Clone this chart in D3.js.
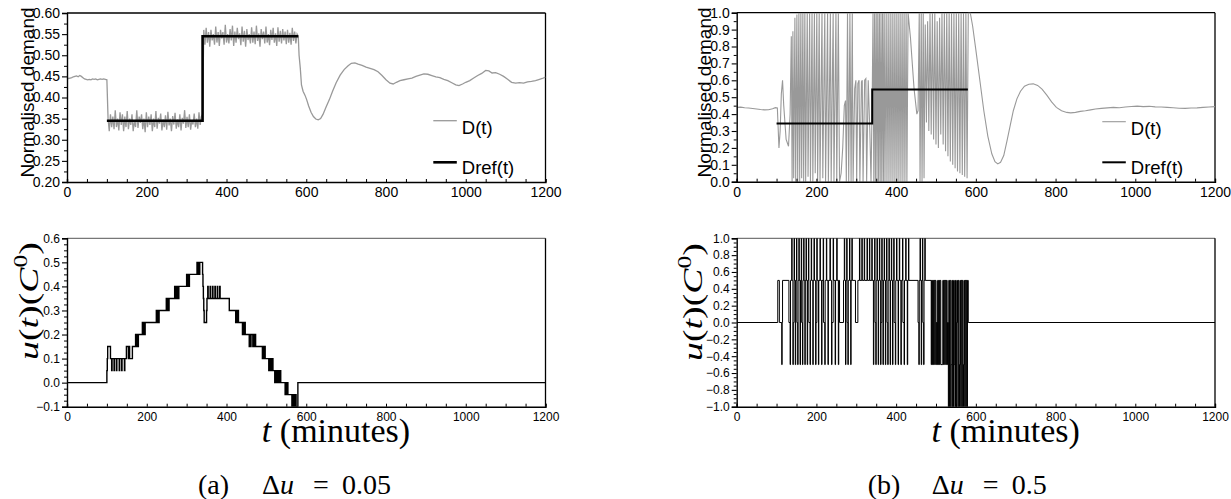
<!DOCTYPE html>
<html><head><meta charset="utf-8">
<script src="https://cdn.jsdelivr.net/npm/d3@7"></script>
<style>body{margin:0;background:#fff}svg{display:block}</style>
</head><body>
<svg id="c" width="1231" height="499"></svg>
<script>
// ---------------- DATA ----------------
const timeTicks = [0,200,400,600,800,1000,1200];
const timeMinor = [0,50,100,150,200,250,300,350,400,450,500,550,600,650,700,750,800,850,900,950,1000,1050,1100,1150,1200];
const ticksDemA = [0.20,0.25,0.30,0.35,0.40,0.45,0.50,0.55,0.60];
const ticksDemB = [0.0,0.1,0.2,0.3,0.4,0.5,0.6,0.7,0.8,0.9,1.0];
const ticksUA = [-0.1,0.0,0.1,0.2,0.3,0.4,0.5,0.6];
const ticksUB = [-1.0,-0.8,-0.6,-0.4,-0.2,0.0,0.2,0.4,0.6,0.8,1.0];

// (a) D(t): before step, noisy segments sampled every 3 min, recovery
const demA_pre = [[0,0.447],[4,0.445],[8,0.446],[12,0.447],[16,0.449],[20,0.45],[24,0.451],[28,0.449],[32,0.452],[36,0.45],[40,0.447],[44,0.444],[48,0.443],[52,0.442],[56,0.443],[60,0.442],[64,0.444],[68,0.443],[72,0.444],[76,0.442],[80,0.443],[84,0.444],[88,0.443],[92,0.444],[96,0.443],[100,0.442]];
const demA_seg1Start = 103, demA_step = 3;
const demA_seg1 = [0.35,0.32,0.36,0.33,0.355,0.325,0.37,0.33,0.35,0.322,0.365,0.335,0.36,0.32,0.355,0.33,0.368,0.325,0.35,0.335,0.36,0.32,0.345,0.33,0.37,0.328,0.355,0.34,0.36,0.325,0.35,0.318,0.365,0.33,0.355,0.335,0.36,0.32,0.35,0.33,0.368,0.326,0.352,0.338,0.362,0.322,0.348,0.33,0.358,0.324,0.366,0.334,0.35,0.32,0.356,0.336,0.364,0.326,0.348,0.33,0.36,0.322,0.352,0.338,0.37,0.328,0.354,0.33,0.36,0.324,0.346,0.336,0.362,0.33,0.35,0.326,0.365,0.335,0.355,0.36];
const demA_seg2Start = 343;
const demA_seg2 = [0.56,0.525,0.565,0.53,0.555,0.52,0.56,0.535,0.55,0.525,0.568,0.53,0.555,0.522,0.56,0.54,0.555,0.525,0.572,0.53,0.55,0.528,0.562,0.535,0.57,0.522,0.556,0.53,0.565,0.538,0.552,0.524,0.568,0.532,0.558,0.52,0.562,0.536,0.55,0.528,0.566,0.53,0.556,0.526,0.57,0.534,0.552,0.52,0.562,0.538,0.556,0.528,0.568,0.53,0.55,0.524,0.56,0.536,0.565,0.53,0.552,0.522,0.566,0.532,0.558,0.528,0.562,0.535,0.556,0.526,0.56,0.53,0.553,0.525,0.565,0.534,0.556,0.528,0.55,0.545];
const demA_post = [[582,0.50],[585,0.47],[588,0.43],[592,0.415],[597,0.405],[601,0.395],[606,0.38],[612,0.365],[618,0.355],[624,0.349],[630,0.347],[636,0.35],[642,0.36],[650,0.378],[658,0.395],[666,0.415],[675,0.435],[685,0.453],[695,0.466],[705,0.475],[713,0.481],[722,0.482],[730,0.479],[740,0.476],[750,0.472],[760,0.469],[770,0.466],[780,0.461],[790,0.452],[800,0.442],[810,0.434],[818,0.432],[826,0.436],[835,0.44],[845,0.442],[855,0.444],[865,0.446],[875,0.45],[885,0.453],[895,0.456],[905,0.455],[915,0.452],[925,0.449],[935,0.447],[945,0.443],[955,0.44],[965,0.435],[975,0.43],[983,0.428],[992,0.432],[1000,0.436],[1010,0.44],[1020,0.446],[1030,0.452],[1040,0.457],[1050,0.464],[1058,0.463],[1066,0.458],[1075,0.459],[1085,0.455],[1095,0.45],[1105,0.443],[1115,0.436],[1125,0.434],[1135,0.435],[1145,0.434],[1155,0.437],[1165,0.438],[1175,0.44],[1185,0.443],[1192,0.445],[1200,0.448]];

// reference demand (both cases)
const drefT = [100,340,580];
const drefV = [0.345,0.545,0.545];

// (a) control u(t), step-after [t, value]
const uA = [[0,0],[100,0.05],[101,0.10],[102,0.15],[109,0.10],
 [112,0.05],[113,0.10],[118,0.05],[119,0.10],[124,0.05],[125,0.10],[131,0.05],[132,0.10],[137,0.05],[138,0.10],[144,0.05],[145,0.10],
 [149,0.15],[154,0.10],[156,0.15],[157,0.10],[164,0.15],
 [172,0.2],[173,0.15],[175.5,0.2],[176.5,0.15],[179,0.2],
 [189,0.25],[190,0.2],[192.5,0.25],[193.5,0.2],[196,0.25],
 [224,0.3],[225,0.25],[227.5,0.3],[228.5,0.25],[231,0.3],
 [249,0.35],[250,0.3],[252.5,0.35],[253.5,0.3],[256,0.35],
 [270,0.4],[271,0.35],[273.5,0.4],[274.5,0.35],[277,0.4],[278,0.35],[280.5,0.4],
 [300,0.45],[301,0.4],[303.5,0.45],[304.5,0.4],[307,0.45],
 [326,0.5],[327,0.45],[329.5,0.5],[330.5,0.45],[333,0.5],
 [340,0.45],[341,0.4],[342,0.35],[343,0.3],[344,0.25],[350,0.3],[351,0.35],
 [353,0.4],[354,0.35],[359,0.4],[360,0.35],[365,0.4],[366,0.35],[371,0.4],[372,0.35],[377,0.4],[378,0.35],[383,0.4],[384,0.35],
 [407,0.3],
 [423,0.25],[424,0.3],[426.5,0.25],[427.5,0.3],[430,0.25],
 [440,0.2],[441,0.25],[443.5,0.2],[444.5,0.25],[447,0.2],
 [457,0.15],[458,0.2],[460.5,0.15],[461.5,0.2],[466,0.15],[467,0.2],[469.5,0.15],[470.5,0.2],[473,0.15],
 [490,0.1],[491,0.15],[493.5,0.1],[494.5,0.15],[497,0.1],
 [506,0.05],[507,0.1],[509.5,0.05],[510.5,0.1],[513,0.05],[514,0.1],[516.5,0.05],
 [521,0],[522,0.05],[524.5,0],[525.5,0.05],[529,0],[530,0.05],[532.5,0],[533.5,0.05],[536,0],
 [547,-0.05],[548,0],[550.5,-0.05],[551.5,0],[554,-0.05],
 [564,-0.1],[565,-0.05],[567.5,-0.1],[568.5,-0.05],[571,-0.1],[572,-0.05],[574.5,-0.1],
 [579,0],[1200,0]];

// (b) D(t) turning points
const demB = [[0,0.44],[10,0.441],[20,0.438],[30,0.436],[40,0.433],[50,0.43],[60,0.427],[70,0.425],[80,0.426],[90,0.432],[97,0.438],[102,0.436],[106,0.2],[109,0.3],[112,0.52],[115,0.6],[118,0.45],[124,0.25],[130,0.21],[134,0.4],[137,0.86],[139,0.0],[141,0.89],[143,0.02],[146,0.97],[148,0.0],[151,0.99],[153,0.0],[156,1.0],[158,0.0],[161,1.0],[163,0.02],[166,1.0],[168,0.0],[171,1.0],[173,0.0],[177,1.0],[179,0.03],[183,1.0],[185,0.0],[189,1.0],[191,0.0],[195,1.0],[197,0.05],[201,1.0],[203,0.0],[207,1.0],[209,0.0],[214,1.0],[216,0.02],[221,1.0],[223,0.0],[228,1.0],[230,0.0],[235,1.0],[237,0.0],[242,1.0],[244,0.0],[249,1.0],[251,0.0],[255,1.0],[258,0.0],[262,0.05],[266,0.2],[270,0.45],[273,0.48],[275,0.0],[278,1.0],[281,0.0],[284,1.0],[287,0.0],[290,1.0],[292,0.0],[296,0.55],[299,0.6],[301,0.0],[304,0.58],[307,0.6],[309,0.0],[313,0.59],[315,0.6],[317,0.0],[321,0.6],[324,0.61],[326,0.0],[330,0.6],[334,0.3],[337,0.0],[340,0.5],[342,1.0],[344,0.0],[346,1.0],[348,0.0],[350,1.0],[352,0.0],[354,1.0],[356,0.0],[358,1.0],[360,0.0],[362,1.0],[364,0.0],[366,1.0],[368,0.0],[370,1.0],[372,0.0],[375,1.0],[377,0.0],[380,1.0],[382,0.0],[385,1.0],[387,0.0],[390,1.0],[392,0.0],[395,1.0],[397,0.0],[400,1.0],[402,0.0],[405,1.0],[407,0.0],[410,1.0],[412,0.0],[415,1.0],[417,0.0],[420,1.0],[422,0.0],[425,1.0],[427,0.0],[430,1.0],[436,0.85],[445,0.55],[452,0.4],[455,0.42],[458,1.0],[460,0.0],[463,1.0],[465,0.0],[468,1.0],[470,0.02],[473,0.93],[476,0.35],[479,0.95],[482,0.3],[485,1.0],[488,0.28],[491,1.0],[494,0.25],[497,1.0],[500,0.22],[503,0.95],[506,0.2],[509,0.97],[512,0.28],[515,1.0],[518,0.22],[521,1.0],[524,0.18],[527,1.0],[530,0.15],[533,1.0],[536,0.12],[539,1.0],[542,0.1],[545,1.0],[548,0.08],[551,1.0],[554,0.06],[557,1.0],[560,0.05],[563,1.0],[566,0.04],[569,1.0],[572,0.03],[575,1.0],[578,0.02],[581,1.0],[586,1.0],[592,0.92],[600,0.78],[610,0.6],[620,0.42],[630,0.27],[640,0.165],[648,0.118],[655,0.105],[662,0.115],[670,0.155],[678,0.24],[686,0.33],[694,0.42],[703,0.49],[712,0.535],[722,0.565],[733,0.577],[744,0.579],[755,0.57],[766,0.548],[778,0.512],[790,0.472],[802,0.44],[815,0.42],[828,0.41],[838,0.407],[850,0.41],[862,0.416],[875,0.42],[888,0.425],[900,0.43],[915,0.434],[930,0.437],[945,0.44],[960,0.438],[975,0.442],[990,0.445],[1005,0.447],[1020,0.444],[1035,0.446],[1050,0.443],[1065,0.442],[1080,0.44],[1095,0.438],[1110,0.435],[1125,0.434],[1140,0.436],[1155,0.437],[1170,0.44],[1185,0.442],[1200,0.444]];

// (b) control u(t), step-after [t, value]
const uB = [[0,0],[103,0.5],[107,0],[113,-0.5],[114,0],[115,0.5],[131,0],[134,-0.5],[135,0.5],[138,1],[139,0.5],[141,-0.5],[142,0],[144,1],[145,0.5],[147,-0.5],[148,0.5],[150,1],[151,0],[153,-0.5],[154,0.5],[156,1],[157,0.5],[159,-0.5],[160,0.5],[162,1],[163,0],[165,-0.5],[166,0.5],[168,1],[169,0.5],[171,-0.5],[172,0.5],[174,1],[175,0.5],[177,-0.5],[178,0.5],[180,1],[181,0],[184,-0.5],[185,0.5],[187,1],[188,0.5],[191,-0.5],[192,0.5],[194,1],[195,0.5],[198,-0.5],[199,0],[201,1],[202,0.5],[205,-0.5],[206,0.5],[209,1],[210,0.5],[213,-0.5],[214,0.5],[217,1],[218,0],[221,-0.5],[222,0.5],[225,1],[226,0.5],[229,-0.5],[230,0.5],[234,1],[235,0.5],[238,-0.5],[239,0],[242,1],[243,0.5],[247,-0.5],[248,0.5],[251,1],[252,0.5],[255,-0.5],[256,0.5],[258,0],[268,0.5],[270,1],[271,0.5],[273,-0.5],[274,0.5],[276,1],[277,0],[279,-0.5],[280,0.5],[283,1],[284,0.5],[286,-0.5],[287,0.5],[289,1],[290,0.5],[298,0],[304,0.5],[308,1],[309,0.5],[314,1],[315,0.5],[320,1],[321,0.5],[327,1],[328,0.5],[333,1],[334,0.5],[339,1],[340,0.5],[343,-0.5],[344,0.5],[346,1],[347,0],[349,-0.5],[350,0.5],[352,1],[353,0.5],[355,-0.5],[356,0.5],[358,1],[359,0.5],[361,-0.5],[362,0],[364,1],[365,0.5],[367,-0.5],[368,0.5],[370,1],[371,0.5],[373,-0.5],[374,0.5],[376,1],[377,0],[379,-0.5],[380,0.5],[382,1],[383,0.5],[385,-0.5],[386,0.5],[388,1],[389,0.5],[391,-0.5],[392,0.5],[394,1],[395,0],[398,-0.5],[399,0.5],[401,1],[402,0.5],[405,-0.5],[406,0.5],[408,1],[409,0.5],[412,-0.5],[413,0.5],[416,1],[417,0],[420,-0.5],[421,0.5],[424,1],[425,0.5],[428,-0.5],[429,0.5],[431,1],[432,0.5],[455,0],[457,-0.5],[458,0.5],[460,1],[461,0.5],[463,-0.5],[464,0.5],[466,1],[467,0],[469,-0.5],[470,0.5],[472,1],[473,0.5],[488,-0.5],[489,0.5],[491,-0.5],[492,0.5],[494,-0.5],[495,0.5],[497,-0.5],[498,0.5],[500,-0.5],[501,0],[503,-0.5],[504,0.5],[506,-0.5],[507,0.5],[509,-0.5],[510,0.5],[512,-0.5],[517,0.5],[519,-0.5],[520,0.5],[522,-0.5],[523,0.5],[525,-0.5],[526,0.5],[528,-0.5],[529,0],[531,-1],[532,0.5],[534,-1],[535,0.5],[537,-1],[538,-0.5],[540,0.5],[541,-1],[542,0.5],[544,-1],[545,-0.5],[547,0.5],[548,-1],[549,0.5],[551,-1],[552,0],[554,0.5],[555,-1],[556,0.5],[558,-1],[559,-0.5],[561,0.5],[562,-1],[563,0.5],[565,-1],[566,0.5],[568,-1],[569,-0.5],[571,0.5],[572,-1],[573,0.5],[575,-1],[576,0.5],[578,-1],[579,0.5],[581,0],[1200,0]];

// ---------------- DRAW ----------------
const svg = d3.select("#c");
const SANS = "'Liberation Sans', Arial, Helvetica, sans-serif";
const SERIF = "'Liberation Serif', 'Times New Roman', serif";

function minorBetween(majors, n){
  const out=[];
  for(let i=0;i<majors.length-1;i++){
    for(let k=1;k<n;k++) out.push(majors[i]+(majors[i+1]-majors[i])*k/n);
  }
  return out;
}

function panel(o){
  const x = d3.scaleLinear().domain([0,1200]).range([o.x0,o.x1]);
  const y = d3.scaleLinear().domain(o.ydom).range([o.y0,o.y1]);
  const g = svg.append("g");
  const id = "clip"+o.id;
  svg.append("clipPath").attr("id",id).append("rect")
    .attr("x",o.x0).attr("y",o.y1).attr("width",o.x1-o.x0).attr("height",o.y0-o.y1);
  g.append("line").attr("x1",o.x0).attr("x2",o.x1).attr("y1",o.y1).attr("y2",o.y1)
    .attr("stroke",o.topColor).attr("stroke-width",1.3);
  g.append("line").attr("x1",o.x1).attr("x2",o.x1).attr("y1",o.y1).attr("y2",o.y0)
    .attr("stroke","#000").attr("stroke-width",1.3);
  const lines = g.append("g").attr("clip-path",`url(#${id})`);
  o.series.forEach(s=>{
    lines.append("path").datum(s.data)
      .attr("fill","none").attr("stroke",s.color).attr("stroke-width",s.width)
      .attr("d", d3.line().x(d=>x(d[0])).y(d=>y(d[1])).curve(s.curve||d3.curveLinear));
  });
  const xa = g.append("g").attr("transform",`translate(0,${o.y0})`)
    .call(d3.axisBottom(x).tickValues(timeMinor).tickSize(-3).tickPadding(o.xPad)
      .tickFormat(d=> timeTicks.includes(d)? String(d):""));
  xa.select(".domain").attr("stroke","#000").attr("stroke-width",1.4);
  xa.selectAll(".tick line").attr("stroke","#000").attr("stroke-width",1);
  xa.selectAll("text").attr("font-family",SANS).attr("font-size",o.fs).attr("fill","#000");
  const ya = g.append("g").attr("transform",`translate(${o.x0},0)`)
    .call(d3.axisLeft(y).tickValues(o.yticks).tickSize(5).tickPadding(2)
      .tickFormat(d3.format(o.yfmt)));
  ya.select(".domain").attr("stroke","#000").attr("stroke-width",1.4);
  ya.selectAll(".tick line").attr("stroke","#000").attr("stroke-width",1.1);
  ya.selectAll("text").attr("font-family",SANS).attr("font-size",o.fs).attr("fill","#000");
  const ym = g.append("g").attr("transform",`translate(${o.x0},0)`)
    .call(d3.axisLeft(y).tickValues(minorBetween(o.yticks,o.ysub)).tickSize(3).tickFormat(""));
  ym.select(".domain").remove();
  ym.selectAll(".tick line").attr("stroke","#000").attr("stroke-width",1);
  return {x,y,g};
}

function demandSeries(){
  const d = demA_pre.slice();
  demA_seg1.forEach((v,i)=>d.push([demA_seg1Start+demA_step*i, v]));
  demA_seg2.forEach((v,i)=>d.push([demA_seg2Start+demA_step*i, v]));
  return d.concat(demA_post);
}
const dref = drefT.map((t,i)=>[t,drefV[i]]);

panel({id:"at", x0:67, x1:545.5, y0:182, y1:13, ydom:[0.2,0.6], yticks:ticksDemA, ysub:2, yfmt:".2f", fs:14, xPad:5.5, topColor:"#000",
  series:[{data:demandSeries(), color:"#999", width:1.3},
          {data:dref, color:"#000", width:2.6, curve:d3.curveStepAfter}]});
panel({id:"bt", x0:736.7, x1:1215, y0:181.7, y1:12.7, ydom:[0,1], yticks:ticksDemB, ysub:2, yfmt:".1f", fs:14, xPad:5.5, topColor:"#000",
  series:[{data:demB, color:"#999", width:1.1},
          {data:dref, color:"#000", width:2.0, curve:d3.curveStepAfter}]});
panel({id:"ab", x0:67, x1:545.5, y0:406.7, y1:238.3, ydom:[-0.1,0.6], yticks:ticksUA, ysub:4, yfmt:".1f", fs:12, xPad:6, topColor:"#777",
  series:[{data:uA, color:"#000", width:1.4, curve:d3.curveStepAfter}]});
panel({id:"bb", x0:736.7, x1:1215, y0:406.7, y1:238.3, ydom:[-1,1], yticks:ticksUB, ysub:4, yfmt:".1f", fs:12, xPad:6, topColor:"#777",
  series:[{data:uB, color:"#000", width:1.0, curve:d3.curveStepAfter}]});

svg.selectAll(".tick text").each(function(){const t=d3.select(this); t.text(t.text().replace("-","\u2212"));});

// legends
function legend(lx, ty1, ty2, w1, w2){
  svg.append("line").attr("x1",lx).attr("x2",lx+23.5).attr("y1",ty1).attr("y2",ty1).attr("stroke","#999").attr("stroke-width",w1);
  svg.append("line").attr("x1",lx).attr("x2",lx+23.5).attr("y1",ty2).attr("y2",ty2).attr("stroke","#000").attr("stroke-width",w2);
  svg.append("text").attr("x",lx+28.5).attr("y",ty1+13.5).attr("font-family",SANS).attr("font-size",18.5).text("D(t)");
  svg.append("text").attr("x",lx+28.5).attr("y",ty2+12).attr("font-family",SANS).attr("font-size",18.5).text("Dref(t)");
}
legend(433.3, 120.7, 162.3, 1.3, 2.6);
legend(1102.3, 121.7, 162.3, 1.1, 2.0);

// y labels top
[[33.5,92.5],[710.5,92.5]].forEach(p=>{
  svg.append("text").attr("transform",`translate(${p[0]},${p[1]}) rotate(-90)`)
    .attr("text-anchor","middle").attr("font-family",SANS).attr("font-size",19).text("Normalised demand");
});
// y labels bottom: u(t)(C^0)
[[38.3,301],[702,302]].forEach(p=>{
  const t = svg.append("text").attr("transform",`translate(${p[0]},${p[1]}) rotate(-90) scale(1.35,1)`)
    .attr("text-anchor","middle").attr("font-family",SERIF).attr("font-size",28);
  t.append("tspan").attr("font-style","italic").text("u");
  t.append("tspan").text("(");
  t.append("tspan").attr("font-style","italic").text("t");
  t.append("tspan").text(")(");
  t.append("tspan").attr("font-style","italic").text("C");
  t.append("tspan").attr("font-size",19).attr("dy",-11).text("0");
  t.append("tspan").attr("dy",11).text(")");
});
// x labels bottom
[[336,442],[1005.7,442]].forEach(p=>{
  const t = svg.append("text").attr("x",p[0]).attr("y",p[1]).attr("text-anchor","middle")
    .attr("font-family",SERIF).attr("font-size",34);
  t.append("tspan").attr("font-style","italic").text("t");
  t.append("tspan").text(" (minutes)");
});
// captions: pieces placed at their own x
[[198,"(a)","0.05"],[867.7,"(b)","0.5"]].forEach(p=>{
  const x0=p[0];
  const t = svg.append("text").attr("y",494).attr("font-family",SERIF).attr("font-size",28);
  t.append("tspan").attr("x",x0).text(p[1]);
  t.append("tspan").attr("x",x0+64).text("\u0394");
  t.append("tspan").attr("font-style","italic").text("u");
  t.append("tspan").attr("x",x0+115).text("=");
  t.append("tspan").attr("x",x0+144).text(p[2]);
});
</script>
</body></html>
